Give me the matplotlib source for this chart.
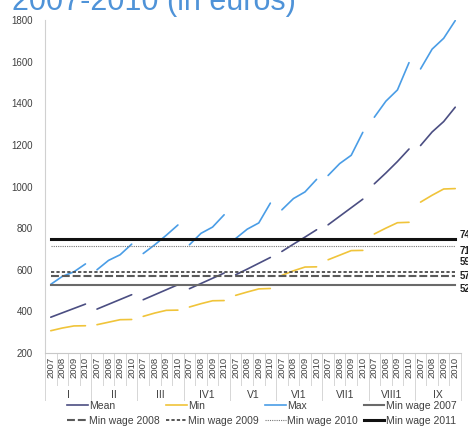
import matplotlib
matplotlib.use("Agg")
import matplotlib.pyplot as plt
from matplotlib.lines import Line2D
import numpy as np

plt.rcParams["font.family"] = ["Liberation Sans", "DejaVu Sans"]

groups = ["I", "II", "III", "IV1", "V1", "VI1", "VII1", "VIII1", "IX"]
years = ["2007", "2008", "2009", "2010"]

mean_vals = [372, 393, 414, 435,
             411, 434, 457, 480,
             456, 480, 504, 528,
             509, 534, 559, 584,
             576, 603, 631, 659,
             688, 723, 757, 792,
             816, 857, 898, 939,
             1013, 1065, 1120, 1180,
             1197, 1262, 1312, 1381]
min_vals = [307, 320, 330, 331,
            336, 348, 360, 361,
            376, 392, 405, 406,
            421, 437, 451, 452,
            477, 493, 508, 510,
            573, 595, 613, 614,
            648, 670, 692, 693,
            772, 800, 826, 828,
            925, 958, 988, 990]
max_vals = [530, 568, 590, 628,
            600, 645, 672, 723,
            678, 720, 766, 815,
            720, 775, 805, 864,
            750, 795, 825, 920,
            888, 942, 974, 1034,
            1053, 1110, 1150, 1260,
            1333, 1410, 1464, 1595,
            1565, 1660, 1712, 1797]

min_wage_labels = ["Min wage 2007", "Min wage 2008", "Min wage 2009",
                   "Min wage 2010", "Min wage 2011"]
min_wage_vals = [526, 572, 591, 712, 748]

title = "2007-2010 (in euros)"

W, H = 468, 430
fig = plt.figure(figsize=(W / 100, H / 100), dpi=100)
ax_left, ax_right, ax_top, ax_bot = 45, 461, 20, 353
ax = fig.add_axes([ax_left / W, 1 - ax_bot / H, (ax_right - ax_left) / W, (ax_bot - ax_top) / H])

n = len(groups) * len(years)
x = np.arange(n)
ng = len(years)

c_mean = "#4b4e82"
c_min = "#f0c43a"
c_max = "#4a9de6"

for g in range(len(groups)):
    sl = slice(g * ng, (g + 1) * ng)
    ax.plot(x[sl], mean_vals[sl], color=c_mean, lw=1.2, solid_capstyle="round")
    ax.plot(x[sl], min_vals[sl], color=c_min, lw=1.2, solid_capstyle="round")
    ax.plot(x[sl], max_vals[sl], color=c_max, lw=1.2, solid_capstyle="round")

styles = [
    dict(color="#6a6a6a", lw=1.5, ls="-"),
    dict(color="#5a5a5a", lw=1.5, ls=(0, (3.8, 1.4))),
    dict(color="#4a4a4a", lw=1.3, ls=(0, (1.8, 1.2))),
    dict(color="#777777", lw=0.8, ls=(0, (1, 1))),
    dict(color="#111111", lw=2.2, ls="-"),
]
wage_handles = []
for lab, v, st in zip(min_wage_labels, min_wage_vals, styles):
    h, = ax.plot(x, [v] * n, **st)
    wage_handles.append(h)

# right-side labels (cut at the figure edge, as in the reference)
offsets = [-3, 0, 7, -3, 3]
for v, dy in zip(min_wage_vals, offsets):
    ax.annotate(str(v), xy=(n - 1, v), xytext=(3.5, dy), textcoords="offset points",
                fontsize=7, fontweight="bold", color="#222222", va="center", ha="left",
                annotation_clip=False)

ax.set_xlim(-0.5, n - 0.5)
ax.set_ylim(200, 1800)
ax.set_yticks(range(200, 1801, 200))
ax.tick_params(axis="y", length=0, labelsize=7, labelcolor="#404040", pad=9)
ax.set_xticks([])
for s in ["top", "right"]:
    ax.spines[s].set_visible(False)
ax.spines["left"].set_color("#d0d0d0")
ax.spines["bottom"].set_color("#c8c8c8")

# multi-level category axis
trans = ax.get_xaxis_transform()
y_year_sep = -(385 - ax_bot) / (ax_bot - ax_top)
y_group_sep = -(400 - ax_bot) / (ax_bot - ax_top)
for i in range(n):
    ax.text(i, -0.012, years[i % ng], transform=trans, rotation=90, ha="center", va="top",
            fontsize=6.8, color="#404040")
for b in range(n + 1):
    y1 = y_group_sep if b % ng == 0 else y_year_sep
    ax.plot([b - 0.5, b - 0.5], [0, y1], transform=trans, color="#d6d6d6", lw=0.7, clip_on=False)
for g, name in enumerate(groups):
    ax.text(g * ng + (ng - 1) / 2, -(395 - ax_bot) / (ax_bot - ax_top), name, transform=trans,
            ha="center", va="center", fontsize=7.5, color="#404040")

# legend
h_mean = Line2D([], [], color=c_mean, lw=1.2)
h_min = Line2D([], [], color=c_min, lw=1.2)
h_max = Line2D([], [], color=c_max, lw=1.2)
handles = [h_mean, wage_handles[1], h_min, wage_handles[2], h_max, wage_handles[3],
           wage_handles[0], wage_handles[4]]
labels = ["Mean", min_wage_labels[1], "Min", min_wage_labels[2], "Max", min_wage_labels[3],
          min_wage_labels[0], min_wage_labels[4]]
leg = fig.legend(handles, labels, ncol=4, loc="upper left", bbox_to_anchor=(67 / W, 1 - 401 / H),
                 frameon=False, fontsize=7.5, handlelength=2.0, handletextpad=0.1,
                 columnspacing=0.6, labelspacing=0.45, borderpad=0, borderaxespad=0)
for t in leg.get_texts():
    t.set_color("#404040")

fig.text(12 / W, 1 - 10 / H, title, fontsize=22, color="#4f93d8", ha="left", va="baseline")

fig.savefig("out.png", dpi=100)
